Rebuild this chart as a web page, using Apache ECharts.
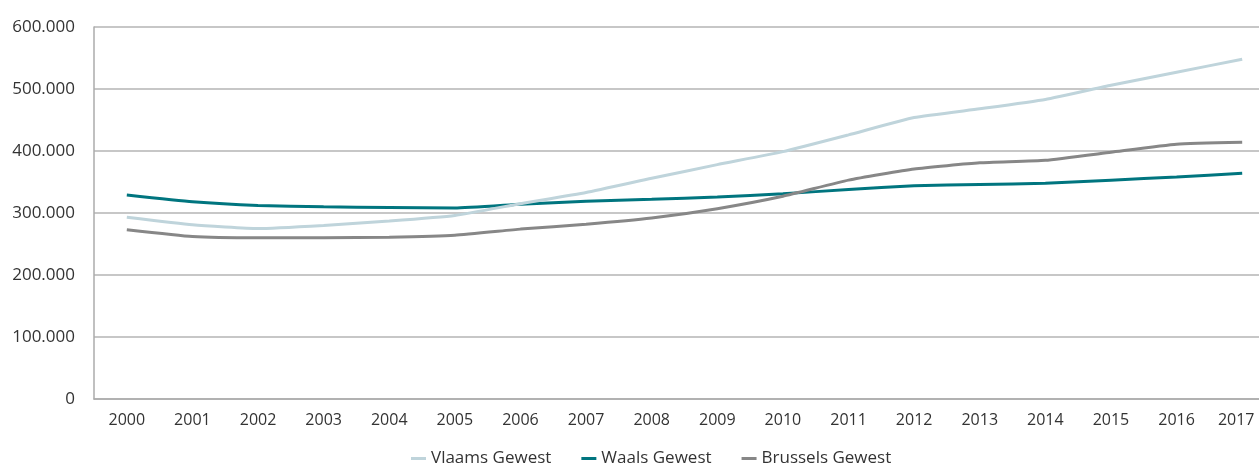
<!DOCTYPE html>
<html>
<head>
<meta charset="utf-8">
<script src="https://cdn.jsdelivr.net/npm/echarts@6/dist/echarts.min.js"></script>
<style>
  html, body { margin: 0; padding: 0; background: #fff; }
  #chart { width: 1259px; height: 466px; }
</style>
</head>
<body>
<div id="chart"></div>
<script>
// jaren
var years = ['2000', '2001', '2002', '2003', '2004', '2005', '2006', '2007', '2008',
  '2009', '2010', '2011', '2012', '2013', '2014', '2015', '2016', '2017']

var vlaams = [293000, 281000, 275000, 280000, 287000, 296000, 315000, 333000, 356000,
  378000, 399000, 426000, 454000, 468000, 483000, 506000, 527000, 548000]
var waals = [329000, 318000, 312000, 310000, 309000, 308000, 314000, 319000, 322000,
  326000, 331000, 338000, 344000, 346000, 348000, 353000, 358000, 364000]
var brussels = [273000, 262000, 260000, 260000, 261000, 264000, 274000, 282000, 292000,
  307000, 327000, 353000, 371000, 381000, 385000, 398000, 411000, 414000]

var names = ['Vlaams Gewest', 'Waals Gewest', 'Brussels Gewest']

function fmt(v) {
  return String(v).replace(/\B(?=(\d{3})+(?!\d))/g, '.')
}

var chart = echarts.init(document.getElementById('chart'))

function line(name, data, color, z) {
  return {
    name: name,
    type: 'line',
    data: data,
    smooth: 0.15,
    showSymbol: false,
    symbol: 'none',
    z: z,
    lineStyle: { color: color, width: 3 },
    itemStyle: { color: color },
    animation: false
  }
}

chart.setOption({
  textStyle: { fontFamily: 'Open Sans' },
  grid: {
    left: 94,
    right: -16,
    top: 27,
    bottom: 67,
    containLabel: false,
    outerBoundsMode: 'none'
  },
  legend: {
    data: names,
    left: 406,
    top: 445,
    icon: 'rect',
    itemWidth: 15,
    itemHeight: 3,
    itemGap: 30,
    textStyle: { fontSize: 17, color: '#333', fontFamily: 'Open Sans' }
  },
  xAxis: {
    type: 'category',
    data: years,
    boundaryGap: true,
    axisLine: { lineStyle: { color: '#ababab', width: 1.5 } },
    axisTick: { inside: true, length: 9, lineStyle: { color: '#ababab', width: 1.5 } },
    axisLabel: {
      fontSize: 16,
      color: '#333',
      margin: 13,
      interval: 0,
      formatter: function (v, i) {
        // laatste jaar iets naar links, zoals in het origineel
        return i === years.length - 1 ? '{last|' + v + '}' : v
      },
      rich: {
        last: { fontSize: 16, color: '#333', fontFamily: 'Open Sans', padding: [0, 12, 0, 0] }
      }
    }
  },
  yAxis: {
    type: 'value',
    min: 0,
    max: 600000,
    interval: 100000,
    axisLine: { show: true, lineStyle: { color: '#ababab', width: 1.5 } },
    axisTick: { show: false },
    splitLine: { lineStyle: { color: '#b5b5b5', width: 1.5 } },
    axisLabel: {
      fontSize: 17,
      color: '#333',
      margin: 19,
      padding: [0, 0, 10, 0],
      formatter: fmt
    }
  },
  series: [
    line(names[0], vlaams, '#bfd4db', 4),
    line(names[1], waals, '#00757f', 3),
    line(names[2], brussels, '#878787', 3)
  ]
})
</script>
</body>
</html>
